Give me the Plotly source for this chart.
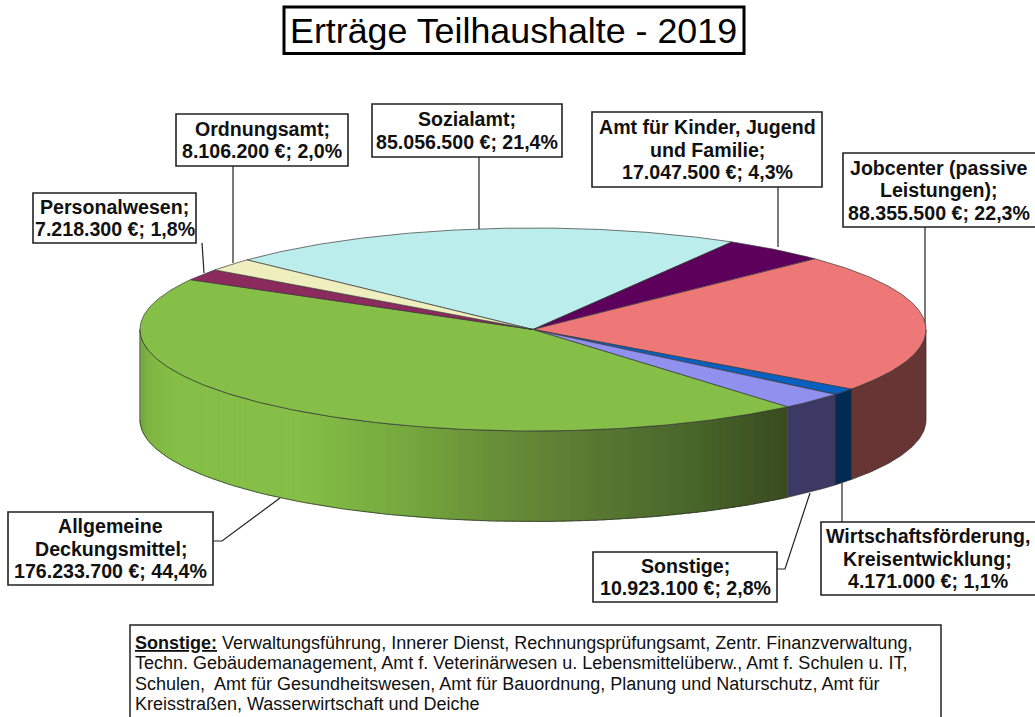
import numpy as np
import plotly.graph_objects as go

# ---- data (clockwise from the Sozialamt slice)
names = ["Sozialamt", "Amt für Kinder, Jugend und Familie", "Jobcenter (passive Leistungen)",
         "Wirtschaftsförderung, Kreisentwicklung", "Sonstige", "Allgemeine Deckungsmittel",
         "Personalwesen", "Ordnungsamt"]
values = [85056500, 17047500, 88355500, 4171000, 10923100, 176233700, 7218300, 8106200]
top_colors = ["#BBEDED", "#5C005C", "#EE7777", "#0A60C0", "#9090EE", "#85BF47", "#8B2A5C", "#EEEEBF"]
wall_colors = ["#BBEDED", "#5C005C", "#683535", "#032A52", "#3C3A64", None, "#8B2A5C", "#EEEEBF"]

labels = [["Sozialamt;", "85.056.500 €; 21,4%"],
          ["Amt für Kinder, Jugend", "und Familie;", "17.047.500 €; 4,3%"],
          ["Jobcenter (passive", "Leistungen);", "88.355.500 €; 22,3%"],
          ["Wirtschaftsförderung,", "Kreisentwicklung;", "4.171.000 €; 1,1%"],
          ["Sonstige;", "10.923.100 €; 2,8%"],
          ["Allgemeine", "Deckungsmittel;", "176.233.700 €; 44,4%"],
          ["Personalwesen;", "7.218.300 €; 1,8%"],
          ["Ordnungsamt;", "8.106.200 €; 2,0%"]]
# label boxes: x0, y0, x1, y1
boxes = [(372, 104, 562, 157), (592, 112, 822, 187), (843, 153, 1036, 227), (821, 522, 1038, 595),
         (593, 552, 777, 602), (8, 512, 213, 585), (33, 193, 196, 243), (176, 114, 348, 166)]
leaders = [[(479, 157), (479, 229)], [(778, 187), (778, 247)], [(925, 227), (925, 328)],
           [(842, 483), (842, 522)], [(777, 569), (785, 569), (810, 493)],
           [(213, 541), (222, 541), (280, 498)], [(202, 243), (204, 273)], [(233, 166), (233, 263)]]

title = "Erträge Teilhaushalte - 2019"
note_lines = ["<b><u>Sonstige:</u></b> Verwaltungsführung, Innerer Dienst, Rechnungsprüfungsamt, Zentr. Finanzverwaltung,",
              "Techn. Gebäudemanagement, Amt f. Veterinärwesen u. Lebensmittelüberw., Amt f. Schulen u. IT,",
              "Schulen,  Amt für Gesundheitswesen, Amt für Bauordnung, Planung und Naturschutz, Amt für",
              "Kreisstraßen, Wasserwirtschaft und Deiche"]

# ---- projection of the tilted pie
CX, CY, RX, RY, DEPTH = 533, 329.5, 393, 101.5, 90.5
START = 313.3
FONT = "Liberation Sans"


def px(t):
    return CX + RX * np.sin(np.radians(t))


def py(t):
    return CY - RY * np.cos(np.radians(t))


def green_wall(x):
    """Colour of the large slice's wall as a function of horizontal position."""
    stops_x = [140, 150, 175, 300, 400, 500, 600, 700, 786]
    stops = np.array([[116, 168, 62], [128, 183, 68], [133, 191, 71], [133, 191, 71], [118, 170, 63],
                      [104, 142, 55], [88, 120, 50], [72, 100, 42], [58, 76, 32]], float)
    c = [np.interp(x, stops_x, stops[:, i]) for i in range(3)]
    return "rgb(%d,%d,%d)" % tuple(c)


fig = go.Figure()
shares = np.array(values) / sum(values) * 360
starts = START + np.concatenate([[0], np.cumsum(shares)[:-1]])
ends = starts + shares


def add_poly(xs, ys, fill, line="rgba(0,0,0,0)", width=0):
    fig.add_trace(go.Scatter(x=xs, y=ys, mode="lines", fill="toself", fillcolor=fill,
                             line=dict(color=line, width=width), hoverinfo="skip", showlegend=False))


# side walls: only the front half (90..270 deg) is visible
for name, s, e, col in zip(names, starts, ends, wall_colors):
    s0, e0 = (s, e) if s < 360 else (s - 360, e - 360)
    a, b = max(s0, 90), min(e0, 270)
    if a >= b:
        continue
    if col is not None:
        t = np.linspace(a, b, 80)
        xs = np.r_[px(t), px(t[::-1])]
        ys = np.r_[py(t), py(t[::-1]) + DEPTH]
        add_poly(np.r_[xs, xs[0]], np.r_[ys, ys[0]], col, "#2a2a2a", 0.7)
    else:
        # gradient built from narrow vertical strips
        edges = np.linspace(a, b, 110)
        for i in range(len(edges) - 1):
            t = np.linspace(edges[i], edges[i + 1] + 0.3, 4)
            xm = px((edges[i] + edges[i + 1]) / 2)
            c = green_wall(xm)
            xs = np.r_[px(t), px(t[::-1])]
            ys = np.r_[py(t), py(t[::-1]) + DEPTH]
            add_poly(np.r_[xs, xs[0]], np.r_[ys, ys[0]], c, c, 0.5)
        t = np.linspace(a, b, 160)
        fig.add_trace(go.Scatter(x=np.r_[px(t), np.nan, px(t)], y=np.r_[py(t), np.nan, py(t) + DEPTH],
                                 mode="lines", line=dict(color="#2a2a2a", width=0.7),
                                 hoverinfo="skip", showlegend=False))
        fig.add_trace(go.Scatter(x=[px(b), px(b), None, px(a), px(a)],
                                 y=[py(b), py(b) + DEPTH, None, py(a), py(a) + DEPTH], mode="lines",
                                 line=dict(color="#555555", width=0.7), hoverinfo="skip", showlegend=False))

# top faces
for s, e, col in zip(starts, ends, top_colors):
    t = np.linspace(s, e, max(int(e - s) * 2, 8))
    add_poly(np.r_[CX, px(t), CX], np.r_[CY, py(t), CY], col, "#3a3a3a", 0.7)

shapes = []
for pts in leaders:
    path = "M " + " L ".join(f"{x} {y}" for x, y in pts)
    shapes.append(dict(type="path", path=path, xref="x", yref="y", layer="below",
                       line=dict(color="#222222", width=1.2)))
annotations = []
LINE = 22.5
for lines, (x0, y0, x1, y1) in zip(labels, boxes):
    shapes.append(dict(type="rect", x0=x0, y0=y0, x1=x1, y1=y1, xref="x", yref="y",
                       line=dict(color="#222222", width=1.6), fillcolor="white", layer="above"))
    xc = (x0 + min(x1, 1034)) / 2
    yc = (y0 + y1) / 2
    for k, ln in enumerate(lines):
        annotations.append(dict(x=xc, y=yc + (k - (len(lines) - 1) / 2) * LINE, xref="x", yref="y",
                                text="<b>" + ln + "</b>", showarrow=False, xanchor="center", yanchor="middle",
                                font=dict(family=FONT, size=19.6, color="#111111")))

shapes.append(dict(type="rect", x0=284, y0=7, x1=744, y1=53.5, xref="x", yref="y",
                   line=dict(color="#000000", width=3), fillcolor="white", layer="above"))
annotations.append(dict(x=513.5, y=31, xref="x", yref="y", text=title, showarrow=False,
                        font=dict(family=FONT, size=35.8, color="#000000"), xanchor="center", yanchor="middle"))

shapes.append(dict(type="rect", x0=130, y0=625, x1=941, y1=722, xref="x", yref="y",
                   line=dict(color="#222222", width=1.5), fillcolor="white", layer="above"))
for k, ln in enumerate(note_lines):
    annotations.append(dict(x=133, y=643 + k * 20.4, xref="x", yref="y", text=ln, showarrow=False, align="left",
                            xanchor="left", yanchor="middle", font=dict(family=FONT, size=18, color="#111111")))

fig.update_layout(width=1035, height=717, autosize=False, margin=dict(l=0, r=0, t=0, b=0),
                  paper_bgcolor="white", plot_bgcolor="white", showlegend=False,
                  xaxis=dict(range=[0, 1035], visible=False, fixedrange=True),
                  yaxis=dict(range=[717, 0], visible=False, fixedrange=True),
                  shapes=shapes, annotations=annotations)
fig.write_html("out.html", config={"displayModeBar": False},
               post_script="document.body.style.margin='0';document.documentElement.style.overflow='hidden';")
